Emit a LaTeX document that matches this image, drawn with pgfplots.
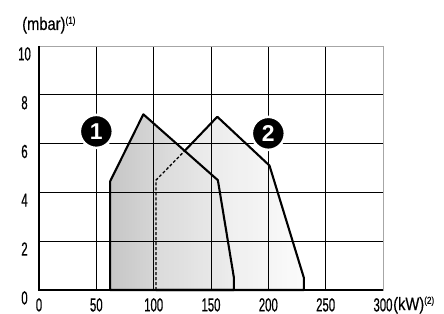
\documentclass[border=0pt]{standalone}
\usepackage{pgfplots}
\pgfplotsset{compat=1.18}
\usepackage{fontspec}
\setmainfont{Liberation Sans}[FakeStretch=0.6, FakeBold=0.5]
\newfontfamily\labfont{Liberation Sans}[FakeStretch=0.82, FakeBold=0.3]
\newfontfamily\circfont{Liberation Sans}
\definecolor{pOneL}{HTML}{C6C6C6}
\definecolor{pOneR}{HTML}{F2F2F2}
\definecolor{pTwoL}{HTML}{DCDCDC}
\definecolor{pTwoR}{HTML}{FAFAFA}
\begin{document}
\begin{tikzpicture}
\begin{axis}[
  scale only axis, width=344bp, height=244bp,
  at={(0,0)}, anchor=south west,
  xmin=0, xmax=300, ymin=0, ymax=10,
  xtick={0,50,...,300}, ytick={0,2,...,10},
  grid=major, major grid style={black, line width=0.8pt},
  axis line style={draw=gray!70, line width=0.6pt},
  tick style={draw=none},
  axis on top,
  /pgf/number format/assume math mode=true,
  ticklabel style={font=\fontsize{19}{19}\selectfont, inner sep=0pt},
  xticklabel style={anchor=north, yshift=-8bp},
  yticklabel style={anchor=north, xshift=-14.5bp, yshift=-1bp},
  clip=false,
]
\addplot[draw=none, left color=pOneL, right color=pOneR]
  coordinates {(62,0) (62,4.45) (91,7.2) (156,4.5) (170,0.5) (170,0)} -- cycle;
\addplot[draw=none, left color=pTwoL, right color=pTwoR, fill opacity=0.8]
  coordinates {(102,0) (102,4.5) (127,5.7) (155.5,7.1) (201,5.1) (231,0.5) (231,0)} -- cycle;
\addplot[black, line width=2.1pt, line join=round]
  coordinates {(62,0) (62,4.45) (91,7.2) (156,4.5) (170,0.5) (170,0)} -- cycle;
\addplot[black, line width=2.1pt, line join=round]
  coordinates {(127,5.7) (155.5,7.1) (201,5.1) (231,0.5) (231,0) (102,0)};
\addplot[black, line width=1.3pt, dash pattern=on 3pt off 2pt]
  coordinates {(102,0) (102,4.5) (127,5.7)};
\coordinate (c1) at (axis cs:50,6.5);
\coordinate (c2) at (axis cs:200,6.42);
\end{axis}
\draw[black, line width=1.2pt] (0,244bp) -- (0,0) -- (344bp,0);
\foreach \c/\n in {c1/1, c2/2}{
  \node[circle, fill=black, draw=white, line width=2.5bp, minimum size=33bp, inner sep=0pt,
        text=white, font=\circfont\bfseries\fontsize{23}{23}\selectfont] at (\c) {\n};
}
\node[anchor=base west, inner sep=0pt, font=\labfont\fontsize{18}{18}\selectfont] at (-17bp,260bp) {(mbar)\textsuperscript{\fontsize{10}{10}\selectfont(1)}};
\node[anchor=base west, inner sep=0pt, font=\labfont\fontsize{18}{18}\selectfont] at (354bp,-20bp) {(kW)\textsuperscript{\fontsize{10}{10}\selectfont(2)}};
\pgfresetboundingbox
\path (-39bp,-24bp) rectangle (405bp,290bp);
\end{tikzpicture}
\end{document}
